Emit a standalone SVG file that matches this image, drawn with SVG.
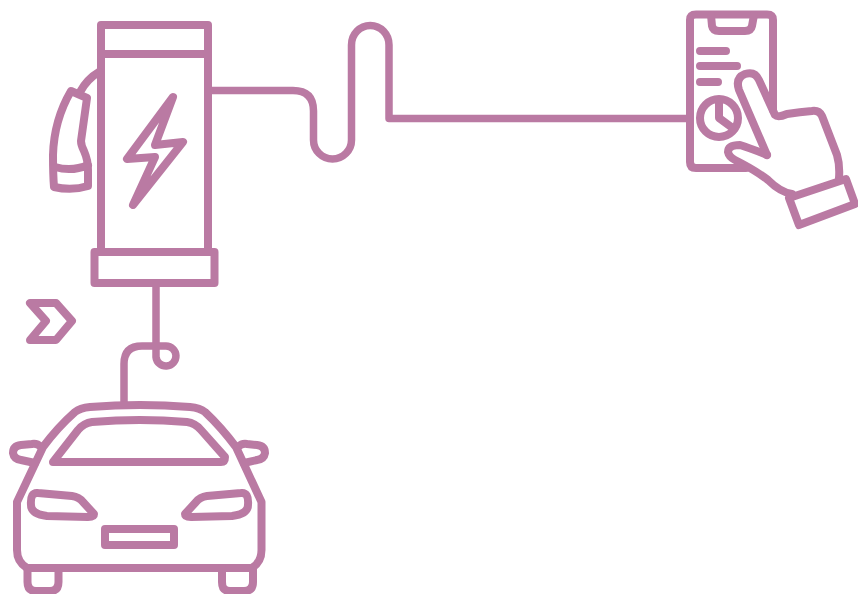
<svg xmlns="http://www.w3.org/2000/svg" width="858" height="594" viewBox="0 0 858 594">
<style>
.s{fill:none;stroke:#ba7aa3;stroke-width:8;stroke-linejoin:round;stroke-linecap:round}
.c{stroke-width:7.500}
</style>
<rect width="858" height="594" fill="#fff"/>
<g id="connectors">
<path class="s c" d="M209 90.500H293Q313.500 90.500 313.500 111V140A19 19 0 0 0 351.500 140V45A18.750 19.500 0 0 1 389 45V118.500H690" stroke-linecap="butt"/>
<path class="s c" d="M156 285V357A10 10 0 1 0 166 346H142Q124 346 124 364V404"/>
</g>
<g id="station">
<path class="s" d="M101 252V25H208V252M101 54H208"/>
<rect class="s" x="94.500" y="252" width="120" height="31"/>
<path class="s" d="M173 97L127 159L155 157L133 205L183 142L155 145Z"/>
</g>
<g id="plug">
<path class="s" d="M80 92Q87 79 99 72"/>
<path class="s" d="M71 91L87 98L81 141Q81 145 84 151Q88 160 88 170L88 186Q72 191 54 187Q53 175 53 155Q54 120 71 91Z"/>
<path class="s" d="M55 167Q72 172 88 165"/>
</g>
<g id="phone">
<path class="s" d="M690 118V20Q690 14.500 696 14.500H767Q773 14.500 773 20V110M690 118V162Q690 168 696 168H746"/>
<path class="s" d="M711 15L712 26Q713 31 719 31H745Q751 31 752 26L754 15"/>
<path class="s" d="M700 51H726M700 66H737M700 82H718"/>
<circle class="s" cx="719" cy="118" r="19"/>
<path class="s" d="M719 100V118L734 129"/>
</g>
<g id="hand">
<path class="s" d="M767 155L739 90Q735 78 745 74Q755 71 759 80L775 115Q778 118 787 114Q800 112 812 111Q819 110 822 116L837 155Q840 165 839 178"/>
<path class="s" d="M767 155Q750 148 740 145Q728 145 728 152Q729 157 735 160Q755 170 768 180Q780 192 792 194"/>
<path class="s" d="M789 198L846 179L855 204L799 225Z"/>
</g>
<g id="chevron">
<path class="s" d="M30 303H56L72 321L56 340H30L46 321Z"/>
</g>
<g id="car">
<path class="s" d="M27 568H252M27 568Q17 562 17 550V502L43 447Q58 427 75 412Q80 408 90 407Q140 403 190 407Q200 408 205 412Q221 427 236 447L261.500 502V550Q261.500 562 252 568"/>
<path class="s" d="M53 462L78 430Q84 423 92 422Q140 418 187 422Q195 423 201 430L225 457Q225 462 221 462Z"/>
<path class="s" d="M41 447Q37 443 32 444L21 445Q13 446 13 453Q14 459 21 460L35 463"/>
<path class="s" d="M238 447Q242 443 247 444L257 445Q265 446 265 453Q264 459 257 460L244 463"/>
<path class="s" d="M38 493L72 496Q79 497 83 502L94 514Q94 517 88 517L47 516Q31 514 31 505Q30 492 38 493Z"/>
<path class="s" d="M241 493L207 496Q200 497 196 502L185 514Q185 517 191 517L232 516Q248 514 248 505Q249 492 241 493Z"/>
<rect class="s" x="105" y="529" width="69" height="16"/>
<path class="s" d="M27.500 568V582Q27.500 591 36 591H50Q58.500 591 58.500 582V568"/>
<path class="s" d="M222 568V582Q222 591 230 591H244Q253 591 253 582V568"/>
</g>
</svg>
